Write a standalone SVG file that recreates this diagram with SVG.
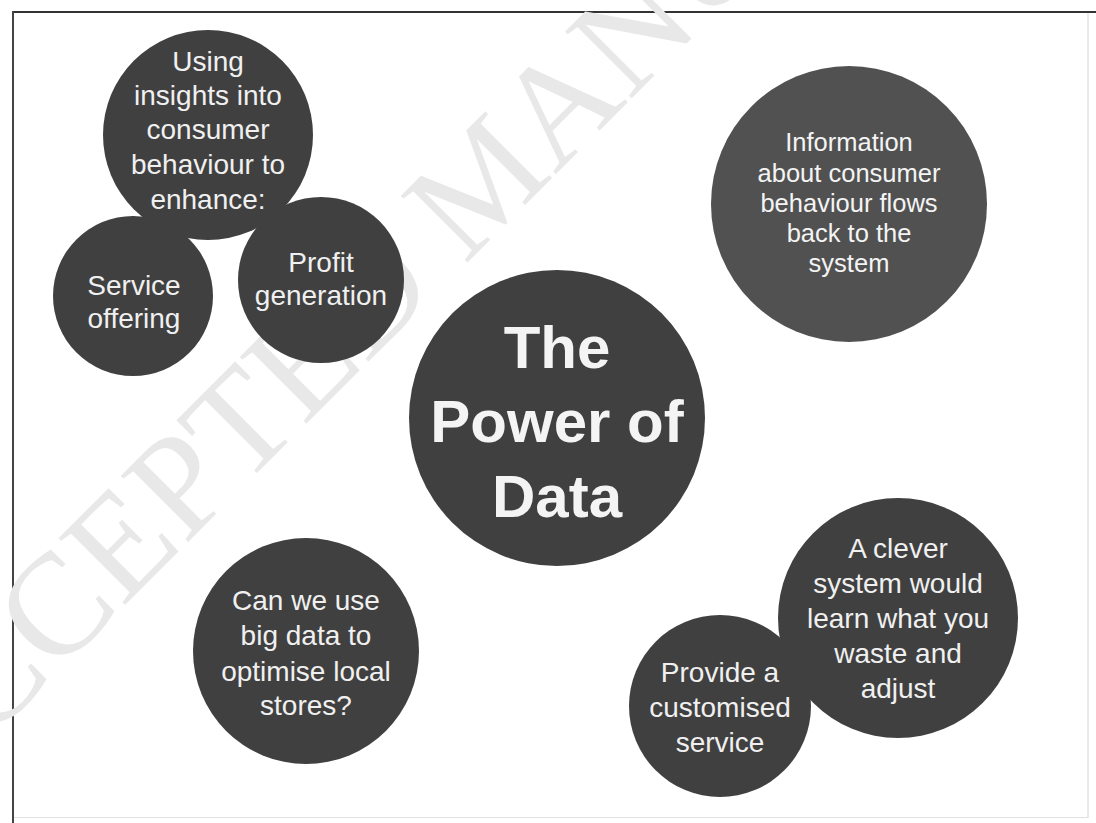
<svg xmlns="http://www.w3.org/2000/svg" width="1096" height="823" viewBox="0 0 1096 823">
<style>
.bg{fill:#ffffff}
.node{fill:#404040}
.node2{fill:#515151}
.t{font-family:"Liberation Sans",Arial,Helvetica,sans-serif;fill:#f0f0f0;text-anchor:middle;font-size:28px}
.t2{font-family:"Liberation Sans",Arial,Helvetica,sans-serif;fill:#f4f4f4;text-anchor:middle;font-size:25.5px}
.big{font-family:"Liberation Sans",Arial,Helvetica,sans-serif;fill:#f4f4f4;text-anchor:middle;font-size:60px;font-weight:bold}
.wm{font-family:"Liberation Serif","Times New Roman",serif;fill:#e8e8e8;font-size:144px}
</style>
<rect class="bg" x="0" y="0" width="1096" height="823"/>
<g id="frame">
<line x1="13" y1="12" x2="1096" y2="12" stroke="#333" stroke-width="2"/>
<line x1="13" y1="11" x2="13" y2="823" stroke="#444" stroke-width="2"/>
<line x1="1088" y1="13" x2="1088" y2="818" stroke="#d4d4d4" stroke-width="1"/>
<line x1="14" y1="817.5" x2="1088" y2="817.5" stroke="#e0e0e0" stroke-width="1"/>
</g>
<g id="watermark">
<text class="wm" transform="translate(-87,817) rotate(-45)">ACCEPTED MANUSCRIPT</text>
</g>
<g id="connectors"></g>
<g id="node-insights">
<circle class="node" cx="208" cy="135" r="105"/>
<text class="t" x="208" y="71">Using</text>
<text class="t" x="208" y="105">insights into</text>
<text class="t" x="208" y="139">consumer</text>
<text class="t" x="208" y="174">behaviour to</text>
<text class="t" x="208" y="209">enhance:</text>
</g>
<g id="node-service">
<circle class="node" cx="133" cy="296" r="80"/>
<text class="t" x="134" y="295">Service</text>
<text class="t" x="134" y="328">offering</text>
</g>
<g id="node-profit">
<circle class="node" cx="321" cy="280" r="83"/>
<text class="t" x="321" y="272">Profit</text>
<text class="t" x="321" y="305">generation</text>
</g>
<g id="node-info">
<circle class="node2" cx="849" cy="204" r="138"/>
<text class="t2" x="849" y="151">Information</text>
<text class="t2" x="849" y="182">about consumer</text>
<text class="t2" x="849" y="212">behaviour flows</text>
<text class="t2" x="849" y="242">back to the</text>
<text class="t2" x="849" y="272">system</text>
</g>
<g id="node-power">
<circle class="node" cx="557" cy="418" r="148"/>
<text class="big" x="557" y="368">The</text>
<text class="big" x="557" y="442">Power of</text>
<text class="big" x="557" y="517">Data</text>
</g>
<g id="node-local">
<circle class="node" cx="306" cy="651" r="113"/>
<text class="t" x="306" y="610">Can we use</text>
<text class="t" x="306" y="645">big data to</text>
<text class="t" x="306" y="681">optimise local</text>
<text class="t" x="306" y="715">stores?</text>
</g>
<g id="node-clever">
<circle class="node" cx="898" cy="618" r="120"/>
<text class="t" x="898" y="558">A clever</text>
<text class="t" x="898" y="593">system would</text>
<text class="t" x="898" y="628">learn what you</text>
<text class="t" x="898" y="663">waste and</text>
<text class="t" x="898" y="698">adjust</text>
</g>
<g id="node-provide">
<circle class="node" cx="720" cy="706" r="91"/>
<text class="t" x="720" y="682">Provide a</text>
<text class="t" x="720" y="717">customised</text>
<text class="t" x="720" y="752">service</text>
</g>
</svg>
